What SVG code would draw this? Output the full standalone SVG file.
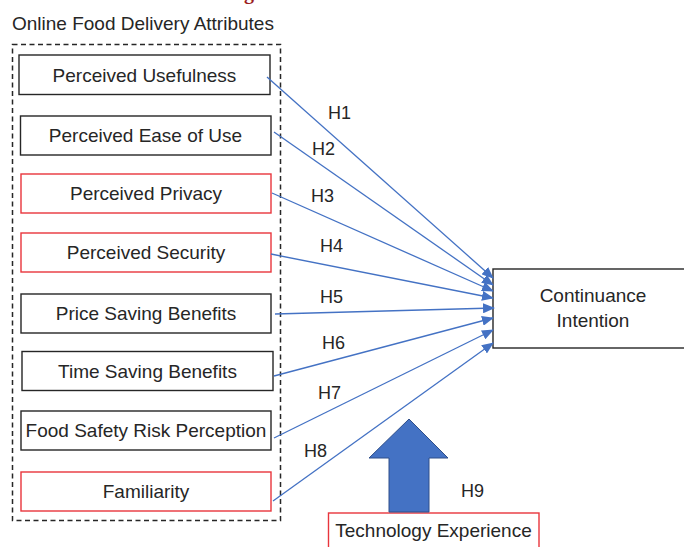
<svg xmlns="http://www.w3.org/2000/svg" width="684" height="547" viewBox="0 0 684 547">
  <style>
    text { font-family: "Liberation Sans", Arial, sans-serif; fill: #262626; }
    .lbl { font-size: 19px; text-anchor: middle; }
    .hyp { font-size: 18px; }
    .box { fill: #ffffff; stroke: #262626; stroke-width: 1.4; }
    .red { fill: #ffffff; stroke: #e8353c; stroke-width: 1.4; }
    .link { stroke: #4472c4; stroke-width: 1.3; fill: none; marker-end: url(#head); }
  </style>
  <defs>
    <marker id="head" markerUnits="userSpaceOnUse" markerWidth="12" markerHeight="10" refX="11" refY="5" orient="auto">
      <path d="M0,0 L12,5 L0,10 z" fill="#4472c4"/>
    </marker>
  </defs>

  <rect width="684" height="547" fill="#ffffff"/>

  <!-- heading fragment at the top edge -->
  <text x="244" y="-1" style="font-family: 'Liberation Serif', serif; font-weight: bold; font-size: 20px; fill: #9b1c20;">g</text>

  <!-- attribute group -->
  <g id="attributes-group">
    <text x="12" y="30" style="font-size: 19px;">Online Food Delivery Attributes</text>
    <rect x="12.5" y="44.5" width="268" height="476" fill="none" stroke="#262626" stroke-width="1.5" stroke-dasharray="5,3.5"/>
  </g>

  <g id="perceived-usefulness">
    <rect class="box" x="19" y="55" width="251" height="39.5"/>
    <text class="lbl" x="144.5" y="81.5">Perceived Usefulness</text>
  </g>
  <g id="perceived-ease-of-use">
    <rect class="box" x="20.5" y="116" width="250.5" height="39"/>
    <text class="lbl" x="145.5" y="142">Perceived Ease of Use</text>
  </g>
  <g id="perceived-privacy">
    <rect class="red" x="21" y="174" width="250" height="39"/>
    <text class="lbl" x="146" y="199.5">Perceived Privacy</text>
  </g>
  <g id="perceived-security">
    <rect class="red" x="21" y="233" width="250" height="39"/>
    <text class="lbl" x="146" y="258.5">Perceived Security</text>
  </g>
  <g id="price-saving-benefits">
    <rect class="box" x="21" y="294" width="250" height="39"/>
    <text class="lbl" x="146" y="319.5">Price Saving Benefits</text>
  </g>
  <g id="time-saving-benefits">
    <rect class="box" x="22" y="351.5" width="251" height="39"/>
    <text class="lbl" x="147.5" y="377.5">Time Saving Benefits</text>
  </g>
  <g id="food-safety-risk-perception">
    <rect class="box" x="21" y="411" width="250" height="39"/>
    <text class="lbl" x="146" y="436.5">Food Safety Risk Perception</text>
  </g>
  <g id="familiarity">
    <rect class="red" x="21" y="472" width="250" height="39"/>
    <text class="lbl" x="146" y="497.5">Familiarity</text>
  </g>

  <g id="continuance-intention">
    <rect class="box" x="493" y="269" width="200" height="79"/>
    <text class="lbl" x="593" y="302">Continuance</text>
    <text class="lbl" x="593" y="327">Intention</text>
  </g>

  <g id="technology-experience">
    <rect class="red" x="328.5" y="513" width="210.5" height="50"/>
    <text class="lbl" x="433.5" y="537">Technology Experience</text>
  </g>

  <!-- connectors -->
  <g id="connectors">
    <line class="link" x1="267" y1="77" x2="493" y2="278"/>
    <line class="link" x1="274" y1="132" x2="493" y2="285"/>
    <line class="link" x1="272" y1="193" x2="493" y2="291"/>
    <line class="link" x1="271" y1="254" x2="493" y2="298"/>
    <line class="link" x1="275" y1="314" x2="494" y2="308"/>
    <line class="link" x1="274" y1="376" x2="493" y2="318"/>
    <line class="link" x1="274" y1="438" x2="493" y2="330"/>
    <line class="link" x1="273" y1="501" x2="493" y2="343"/>
    <!-- moderating block arrow -->
    <path d="M409,419 L448,458 L429,458 L429,512 L389,512 L389,458 L369,458 Z" fill="#4472c4" stroke="#2f4f8a" stroke-width="1"/>
  </g>

  <!-- hypothesis labels -->
  <g id="hypothesis-labels">
    <text class="hyp" x="328" y="119">H1</text>
    <text class="hyp" x="312" y="155">H2</text>
    <text class="hyp" x="311" y="202">H3</text>
    <text class="hyp" x="320" y="252">H4</text>
    <text class="hyp" x="320" y="303">H5</text>
    <text class="hyp" x="322" y="349">H6</text>
    <text class="hyp" x="318" y="399">H7</text>
    <text class="hyp" x="304" y="457">H8</text>
    <text class="hyp" x="461" y="497">H9</text>
  </g>
</svg>
